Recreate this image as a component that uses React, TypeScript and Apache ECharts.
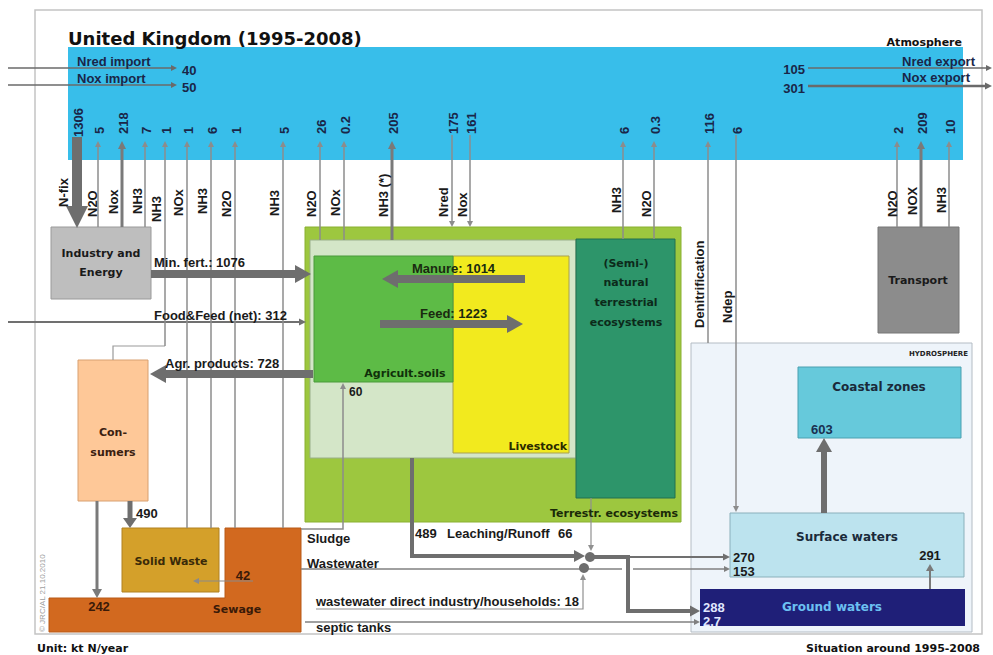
import React, { useEffect, useRef } from "react";
import * as echarts from "echarts";

// ---------------- DATA ----------------
const chartTitle = "United Kingdom (1995-2008)";
const importLabels = ["Nred import", "Nox import"];
const importValues = [40, 50];
const exportLabels = ["Nred export", "Nox export"];
const exportValues = [105, 301];

// flows between the atmosphere and the other compartments
const emissionLabels = ["N-fix", "N2O", "Nox", "NH3", "NH3", "NOx", "NH3", "N2O", "NH3", "N2O", "NOx", "NH3 (*)", "Nred", "Nox", "NH3", "N2O", "Denitrification", "Ndep", "N2O", "NOX", "NH3"];
const emissionValues = [1306, 5, 218, 7, 1, 1, 6, 1, 5, 26, 0.2, 205, 175, 161, 6, 0.3, 116, 6, 2, 209, 10];
const emissionDirection = ["down", "up", "up", "up", "up", "up", "up", "up", "up", "up", "up", "up", "down", "down", "up", "up", "up", "down", "up", "up", "up"];

const compartmentNames = ["Atmosphere", "Industry and|Energy", "Transport", "Agricult.soils", "Livestock", "(Semi-)|natural|terrestrial|ecosystems", "Terrestr. ecosystems", "Con-|sumers", "Solid Waste", "Sewage", "HYDROSPHERE", "Coastal zones", "Surface waters", "Ground waters"];

const landFlowLabels = ["Min. fert.", "Food&Feed (net)", "Agr. products", "Manure", "Feed"];
const landFlowValues = [1076, 312, 728, 1014, 1223];

const wasteFlowLabels = ["Consumers to solid waste", "Consumers to sewage", "Sewage to solid waste", "Sludge"];
const wasteFlowValues = [490, 242, 42, 60];

const waterFlowLabels = ["Leaching/Runoff", "Leaching/Runoff natural", "Wastewater", "wastewater direct industry/households", "septic tanks", "To surface waters", "To surface waters (wastewater)", "To ground waters", "To ground waters (septic)", "Ground to surface", "Coastal zones"];
const waterFlowValues = [489, 66, 153, 18, 2.7, 270, 153, 288, 2.7, 291, 603];

const footerTexts = ["Unit: kt N/year", "Situation around 1995-2008", "© JRC/AL 21.10.2010"];

// ---------------- LAYOUT (positions only) ----------------
const emissionX = [77, 98, 122, 145, 165, 187, 211, 235, 283, 320, 344, 392, 452, 470, 623, 654, 708, 736, 897, 921, 949];
const emissionLabelX = [63, 92, 113, 137, 156, 178, 202, 226, 274, 311, 335, 383, 443, 462, 616, 646, 699, 727, 892, 912, 941];
const emissionLabelBottom = [207, 217, 214, 214, 222, 216, 214, 217, 216, 217, 216, 217, 217, 217, 213, 217, 328, 323, 217, 215, 213];
const emissionEndY = [228, 227, 227, 227, 346, 528, 528, 528, 528, 240, 240, 240, 227, 227, 239, 239, 343, 512, 227, 227, 227];
const emissionWidth = [10, 1.5, 3, 1.5, 1.5, 1.5, 1.5, 1.5, 1.5, 1.5, 1.5, 3, 1.5, 1.5, 1.5, 1.5, 1.5, 1.5, 1.5, 3, 1.5];

const FA = '"Liberation Sans", Arial, sans-serif';
const FC = '"DejaVu Sans", sans-serif';
const DARK = "#6E6E6E";
const THIN = "#8C8C8C";

function buildElements() {
  const els: any[] = [];
  const rect = (x: number, y: number, w: number, h: number, fill: string, stroke = "none", lw = 1) =>
    els.push({ type: "rect", shape: { x, y, width: w, height: h }, style: { fill, stroke, lineWidth: lw } });
  const line = (pts: number[][], lw: number, color: string) =>
    els.push({ type: "polyline", shape: { points: pts }, style: { stroke: color, lineWidth: lw, fill: null } });
  const arrow = (pts: number[][], lw: number, color: string, len: number, half: number) => {
    const n = pts.length;
    const [tx, ty] = pts[n - 1];
    const [px, py] = pts[n - 2];
    const d = Math.hypot(tx - px, ty - py) || 1;
    const dx = (tx - px) / d, dy = (ty - py) / d;
    const body = pts.slice(0, n - 1).concat([[tx - dx * len * 0.85, ty - dy * len * 0.85]]);
    line(body, lw, color);
    const bx = tx - dx * len, by = ty - dy * len;
    els.push({
      type: "polygon",
      shape: { points: [[tx, ty], [bx - dy * half, by + dx * half], [bx + dy * half, by - dx * half]] },
      style: { fill: color },
    });
  };
  const text = (str: string, x: number, y: number, font: string, fill: string, align = "left", valign = "middle", rot = 0) =>
    els.push({
      type: "text", x, y, rotation: rot,
      style: { text: str, font, fill, align, verticalAlign: valign, textAlign: align, textVerticalAlign: valign },
    });
  const dot = (x: number, y: number, r: number) => els.push({ type: "circle", shape: { cx: x, cy: y, r }, style: { fill: DARK } });

  // frame & compartments
  rect(35, 10, 947, 624, "#ffffff", "#C4C4C4", 1.5);
  rect(68, 47, 895, 113, "#38BEEA");
  rect(691, 343, 281, 289, "#EEF4FA", "#B4BCC4", 1);
  rect(305, 227, 376, 295, "#9DC73F", "#8AB030", 1);
  rect(310, 240, 266, 218, "#D4E6C8", "#9AB089", 1);
  rect(453, 256, 116, 197, "#F2EA1E", "#A8A050", 1);
  rect(314, 256, 139, 126, "#5DBB46", "#4A9A3A", 1);
  rect(576, 239, 99, 259, "#2D956A", "#236F50", 1);
  rect(51, 227, 100, 72, "#BEBEBE", "#9A9A9A", 1);
  rect(878, 227, 81, 106, "#8C8C8C", "#777777", 1);
  rect(78, 360, 70, 141, "#FEC898", "#D8A070", 1);
  rect(122, 528, 97, 64, "#D4A02A", "#B08020", 1);
  els.push({
    type: "polygon",
    shape: { points: [[225, 528], [301, 528], [301, 632], [49, 632], [49, 598], [225, 598]] },
    style: { fill: "#D2691F", stroke: "#B85A18", lineWidth: 1 },
  });
  rect(798, 367, 163, 71, "#66C9DB", "#4AA0B0", 1);
  rect(730, 513, 234, 64, "#BCE3EE", "#8AB0BB", 1);
  rect(700, 589, 265, 37, "#1F1F78");

  // imports / exports
  arrow([[8, 68], [177, 68]], 1.5, "#6A6A6A", 6, 3);
  arrow([[8, 85], [177, 85]], 1.5, "#6A6A6A", 6, 3);
  arrow([[808, 68], [992, 68]], 1.5, "#6A6A6A", 6, 3);
  arrow([[808, 86], [992, 86]], 2.5, "#6A6A6A", 7, 3.5);

  // thin connectors drawn beneath arrows
  line([[165, 346], [113, 346], [113, 360]], 1.2, "#9A9A9A");
  arrow([[8, 322], [306, 322]], 2, "#707070", 7, 3.5);

  // emissions / depositions
  emissionX.forEach((x, i) => {
    const lw = emissionWidth[i];
    const color = lw >= 3 ? "#7A7A7A" : THIN;
    if (i === 0) {
      arrow([[x, 137], [x, emissionEndY[i]]], 10, DARK, 22, 11);
    } else if (emissionDirection[i] === "up") {
      arrow([[x, emissionEndY[i]], [x, 141]], lw, color, lw >= 3 ? 8 : 6, lw >= 3 ? 4 : 3);
    } else {
      arrow([[x, 135], [x, emissionEndY[i]]], lw, color, 6, 3);
    }
  });

  // land flows
  arrow([[151, 274], [311, 274]], 8, DARK, 16, 9);
  arrow([[313, 374], [150, 374]], 8, DARK, 16, 9);
  arrow([[525, 279], [382, 279]], 8, DARK, 16, 9);
  arrow([[380, 324], [523, 324]], 8, DARK, 16, 9);

  // waste flows
  arrow([[130, 501], [130, 528]], 5, DARK, 10, 7);
  arrow([[97, 501], [97, 598]], 3, "#7A7A7A", 9, 5);
  arrow([[253, 581], [193, 581]], 1.2, "#8A8A8A", 6, 3);
  arrow([[301, 529], [343, 529], [343, 383]], 1.5, THIN, 6, 3);

  // water flows
  line([[301, 569], [622, 569]], 1.5, "#808080");
  arrow([[633, 569], [730, 569]], 1.5, "#808080", 6, 3);
  arrow([[316, 609], [583, 609], [583, 574]], 1.2, "#909090", 6, 3);
  arrow([[305, 622], [700, 622]], 1.5, "#808080", 6, 3);
  arrow([[591, 498], [591, 551]], 1.2, "#909090", 6, 3);
  arrow([[590, 557], [730, 557]], 2, "#707070", 7, 3.5);
  arrow([[412, 458], [412, 556], [585, 556]], 4, DARK, 11, 6);
  arrow([[590, 557], [628, 557], [628, 611], [700, 611]], 4, DARK, 10, 5.5);
  dot(590, 557, 5);
  dot(584, 568, 5);
  arrow([[930, 589], [930, 564]], 2, "#7A7A7A", 7, 4);
  arrow([[824, 513], [824, 438]], 6, DARK, 14, 8);

  // ---------- texts ----------
  const names = compartmentNames.map((s) => s.split("|"));
  text(chartTitle, 68, 38, `bold 18px ${FC}`, "#111111");
  text(names[0][0], 962, 42, `bold 11px ${FC}`, "#111111", "right");

  const navy = "#1A2648";
  importLabels.forEach((l, i) => {
    text(l, 77, 61 + i * 17, `bold 13px ${FA}`, navy);
    text(String(importValues[i]), 182, 70 + i * 17, `bold 13px ${FA}`, navy);
  });
  exportLabels.forEach((l, i) => {
    text(l, 975 - i * 5, 61 + i * 16, `bold 13px ${FA}`, navy, "right");
    text(String(exportValues[i]), 805, 69 + i * 19, `bold 13px ${FA}`, navy, "right");
  });

  emissionX.forEach((x, i) => {
    text(String(emissionValues[i]), x + 1, i === 0 ? 137 : 134, `bold 13px ${FA}`, navy, "left", "middle", Math.PI / 2);
    text(emissionLabels[i], emissionLabelX[i], emissionLabelBottom[i], `bold 13px ${FA}`, "#1A1A1A", "left", "middle", Math.PI / 2);
  });

  text(names[1][0], 101, 253, `bold 11px ${FC}`, "#1A1A1A", "center");
  text(names[1][1], 101, 272, `bold 11px ${FC}`, "#1A1A1A", "center");
  text(names[2][0], 918, 280, `bold 11px ${FC}`, "#1A1A1A", "center");
  text(names[3][0], 405, 373, `bold 11px ${FC}`, "#10300A", "center");
  text(names[4][0], 567, 446, `bold 11px ${FC}`, "#2A2A00", "right");
  names[5].forEach((s, i) => text(s, 626, 263 + i * 19.7, `bold 11px ${FC}`, "#0C2A1A", "center"));
  text(names[6][0], 678, 513, `bold 11px ${FC}`, "#1A2A08", "right");
  text(names[7][0], 113, 432, `bold 11px ${FC}`, "#3A2010", "center");
  text(names[7][1], 113, 452, `bold 11px ${FC}`, "#3A2010", "center");
  text(names[8][0], 171, 561, `bold 11px ${FC}`, "#3A2A08", "center");
  text(names[9][0], 237, 609, `bold 11px ${FC}`, "#3A1A08", "center");
  text(names[10][0], 968, 354, `bold 7px ${FC}`, "#222222", "right");
  text(names[11][0], 879, 387, `bold 12px ${FC}`, "#1A2A3A", "center");
  text(names[12][0], 847, 537, `bold 12px ${FC}`, "#1A2A3A", "center");
  text(names[13][0], 832, 607, `bold 12px ${FC}`, "#6CC0F2", "center");

  const dk = "#1A1A1A";
  text(`${landFlowLabels[0]}: ${landFlowValues[0]}`, 154, 262, `bold 13px ${FA}`, dk);
  text(`${landFlowLabels[1]}: ${landFlowValues[1]}`, 154, 315, `bold 13px ${FA}`, dk);
  text(`${landFlowLabels[2]}: ${landFlowValues[2]}`, 165, 363, `bold 13px ${FA}`, dk);
  text(`${landFlowLabels[3]}: ${landFlowValues[3]}`, 412, 268, `bold 13px ${FA}`, "#1A2A10");
  text(`${landFlowLabels[4]}: ${landFlowValues[4]}`, 420, 313, `bold 13px ${FA}`, "#1A2A10");

  text(String(wasteFlowValues[0]), 136, 513, `bold 13px ${FA}`, dk);
  text(String(wasteFlowValues[1]), 99, 606, `bold 13px ${FA}`, "#3A1A08", "center");
  text(String(wasteFlowValues[2]), 243, 575, `bold 13px ${FA}`, "#3A1A08", "center");
  text(String(wasteFlowValues[3]), 349, 392, `bold 12px ${FA}`, dk);
  text(wasteFlowLabels[3], 307, 538, `bold 13px ${FA}`, dk);

  text(String(waterFlowValues[0]), 415, 533, `bold 13px ${FA}`, dk);
  text(waterFlowLabels[0], 447, 533, `bold 13px ${FA}`, dk);
  text(String(waterFlowValues[1]), 558, 533, `bold 13px ${FA}`, dk);
  text(waterFlowLabels[2], 307, 563, `bold 13px ${FA}`, dk);
  text(`${waterFlowLabels[3]}: ${waterFlowValues[3]}`, 316, 601, `bold 13px ${FA}`, dk);
  text(waterFlowLabels[4], 316, 627, `bold 13px ${FA}`, dk);
  text(String(waterFlowValues[5]), 733, 557, `bold 13px ${FA}`, dk);
  text(String(waterFlowValues[6]), 733, 571, `bold 13px ${FA}`, dk);
  text(String(waterFlowValues[7]), 703, 607, `bold 13px ${FA}`, "#E0E8FF");
  text(String(waterFlowValues[8]), 703, 621, `bold 13px ${FA}`, "#E0E8FF");
  text(String(waterFlowValues[9]), 930, 555, `bold 13px ${FA}`, dk, "center");
  text(String(waterFlowValues[10]), 811, 429, `bold 13px ${FA}`, "#1A3050");

  text(footerTexts[0], 37, 648, `bold 11px ${FC}`, "#111111");
  text(footerTexts[1], 980, 648, `bold 11px ${FC}`, "#111111", "right");
  text(footerTexts[2], 42, 632, `8px ${FA}`, "#A0A0A0", "left", "middle", Math.PI / 2);
  return els;
}

export default function App() {
  const ref = useRef<HTMLDivElement>(null);
  useEffect(() => {
    if (!ref.current) return;
    const chart = echarts.init(ref.current, null, { renderer: "svg" });
    chart.setOption({
      animation: false,
      backgroundColor: "#ffffff",
      graphic: { elements: buildElements() },
    });
    return () => chart.dispose();
  }, []);
  return <div ref={ref} style={{ width: 993, height: 655, position: "absolute", left: 0, top: 0 }} />;
}
